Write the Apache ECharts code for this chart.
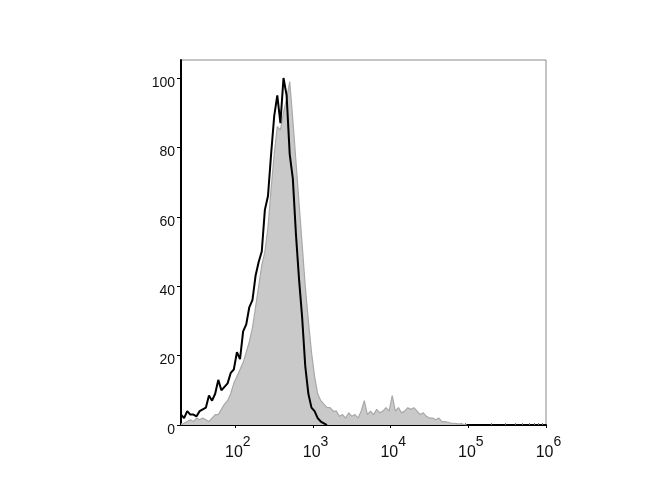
<!DOCTYPE html>
<html>
<head>
<meta charset="utf-8">
<script src="https://cdn.jsdelivr.net/npm/echarts@6/dist/echarts.min.js"></script>
<style>
html, body { margin: 0; padding: 0; background: #fff; }
#main { width: 670px; height: 500px; }
</style>
</head>
<body>
<div id="main"></div>
<script>
// histogram bins on a log10 scale (channel = 10^x)
var binStart = 1.3;
var binWidth = 0.04;

// filled grey histogram (control)
var greyCounts = [
  0, 0.5, 1, 1.5, 1, 2, 1.5, 2, 1.5, 1,
  2, 3, 3, 4.5, 6, 7, 9, 12, 14, 16,
  18, 21, 24, 28, 34, 40, 46, 50, 57, 68,
  78, 86, 85, 90, 94, 99, 88, 76, 64, 52,
  40, 30, 21, 14, 9, 7, 6, 5, 5, 4,
  4, 2.5, 3, 2, 3.5, 2.5, 3, 2, 4, 7,
  3, 4, 3, 4.5, 3.5, 4, 5, 4, 8.5, 4,
  5, 3.5, 4, 5, 4.5, 5, 4, 3, 3.5, 2.5,
  2, 2, 1.5, 2, 1, 1, 0.8, 0.5, 0.5, 0.3,
  0.3, 0.2, 0
];

// black outline histogram (stained)
var blackCounts = [
  3, 2, 4, 3, 3, 2.5, 4, 4.5, 5, 8.5,
  7, 9, 13, 10, 11, 12, 15, 16, 21, 19,
  27, 29, 34, 36, 43, 47, 50, 62, 66, 78,
  89, 95, 87, 100, 95, 78, 71, 55, 42, 31,
  17, 9, 5, 4, 2, 1, 0.5, 0
];

var xLabelValues = [2, 3, 4, 5, 6];
var yLabelValues = [0, 20, 40, 60, 80, 100];

function toPairs(counts) {
  var out = [];
  for (var i = 0; i < counts.length; i++) {
    out.push([binStart + i * binWidth, counts[i]]);
  }
  return out;
}

// minor log ticks (2..9 x 10^n)
var minorTicks = [];
for (var d = 1; d < 6; d++) {
  for (var k = 2; k < 10; k++) {
    var v = d + Math.log10(k);
    if (v >= binStart && v <= 6) minorTicks.push(v);
  }
}

var chart = echarts.init(document.getElementById('main'));
chart.setOption({
  animation: false,
  textStyle: { fontFamily: 'Liberation Sans, Arial, sans-serif' },
  grid: {
    left: 181, right: 124, top: 60, bottom: 75,
    show: true, borderColor: '#8a8a8a', borderWidth: 1
  },
  xAxis: [{
    type: 'value', min: 1.3, max: 6,
    axisLine: { lineStyle: { color: '#000', width: 2 } },
    splitLine: { show: false },
    axisTick: { customValues: xLabelValues, length: 3, lineStyle: { color: '#000' } },
    axisLabel: {
      customValues: xLabelValues,
      margin: 10,
      formatter: function (v) { return '{b|10}{s|' + v + '}'; },
      rich: {
        b: { fontSize: 16, color: '#111', verticalAlign: 'bottom', lineHeight: 26, padding: [0, 0, 0, 5] },
        s: { fontSize: 14, color: '#111', verticalAlign: 'top', lineHeight: 26 }
      }
    }
  }, {
    type: 'value', min: 1.3, max: 6, position: 'bottom',
    axisLine: { show: false },
    splitLine: { show: false },
    axisLabel: { show: false },
    axisTick: { customValues: minorTicks, inside: true, length: 2, lineStyle: { color: '#777' } }
  }],
  yAxis: {
    type: 'value', min: 0, max: 105.2,
    axisLine: { show: true, lineStyle: { color: '#000', width: 2 } },
    splitLine: { show: false },
    axisTick: { show: true, customValues: yLabelValues, length: 4, lineStyle: { color: '#000' } },
    axisLabel: {
      customValues: yLabelValues,
      margin: 6,
      fontSize: 14,
      color: '#111',
      verticalAlign: 'top',
      lineHeight: 10
    }
  },
  series: [{
    type: 'line',
    data: toPairs(greyCounts),
    showSymbol: false,
    lineStyle: { color: '#a8a8a8', width: 1.2 },
    areaStyle: { color: '#c9c9c9', opacity: 1 },
    z: 2
  }, {
    type: 'line',
    data: toPairs(blackCounts),
    showSymbol: false,
    lineStyle: { color: '#000', width: 2 },
    z: 3
  }]
});
</script>
</body>
</html>
